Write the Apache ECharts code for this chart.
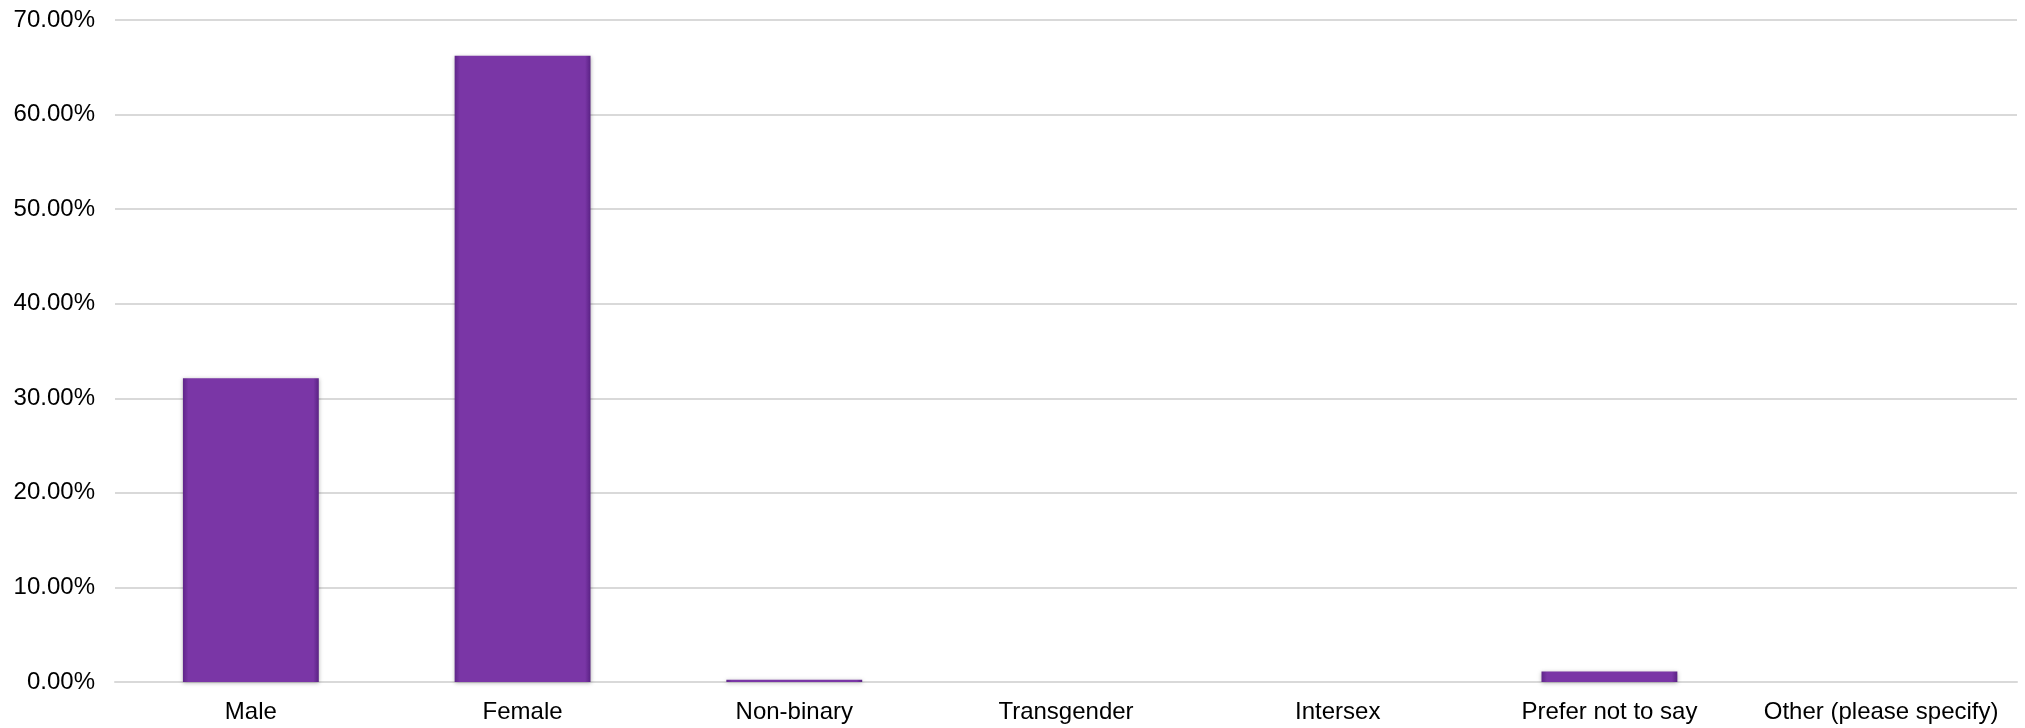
<!DOCTYPE html>
<html>
<head>
<meta charset="utf-8">
<script src="https://cdn.jsdelivr.net/npm/echarts@6/dist/echarts.min.js"></script>
<style>
html,body{margin:0;padding:0;background:#fff;}
#chart{width:2025px;height:728px;}
</style>
</head>
<body>
<div id="chart"></div>
<script>
const categories = ["Male", "Female", "Non-binary", "Transgender", "Intersex", "Prefer not to say", "Other (please specify)"];
const values = [32.13, 66.22, 0.25, 0, 0, 1.12, 0];
const yTicks = { min: 0, max: 70, interval: 10 };

const chart = echarts.init(document.getElementById('chart'), null, { renderer: 'canvas' });
const font = "'Liberation Sans', Arial, sans-serif";
chart.setOption({
  animation: false,
  backgroundColor: '#ffffff',
  grid: { left: 115, right: 8, top: 20, bottom: 46 },
  xAxis: {
    type: 'category',
    data: categories,
    axisTick: { show: false },
    axisLine: { lineStyle: { color: '#d9d9d9', width: 2 } },
    axisLabel: { color: '#000', fontSize: 24, fontFamily: font, margin: 18, interval: 0 }
  },
  yAxis: {
    type: 'value',
    min: yTicks.min, max: yTicks.max, interval: yTicks.interval,
    axisLine: { show: false },
    axisTick: { show: false },
    splitLine: { lineStyle: { color: '#d9d9d9', width: 2 } },
    axisLabel: { color: '#000', fontSize: 24, fontFamily: font, margin: 20,
      formatter: v => v.toFixed(2) + '%' }
  },
  series: [{
    type: 'bar',
    data: values,
    barWidth: '50%',
    itemStyle: {
      color: new echarts.graphic.LinearGradient(0, 0, 1, 0, [
        { offset: 0, color: '#5f2589' },
        { offset: 0.04, color: '#7a36a6' },
        { offset: 0.96, color: '#7a36a6' },
        { offset: 1, color: '#5a2284' }
      ]),
      borderWidth: 0,
      shadowColor: 'rgba(0,0,0,0.3)',
      shadowBlur: 4,
      shadowOffsetY: 1
    }
  }]
});
</script>
</body>
</html>
